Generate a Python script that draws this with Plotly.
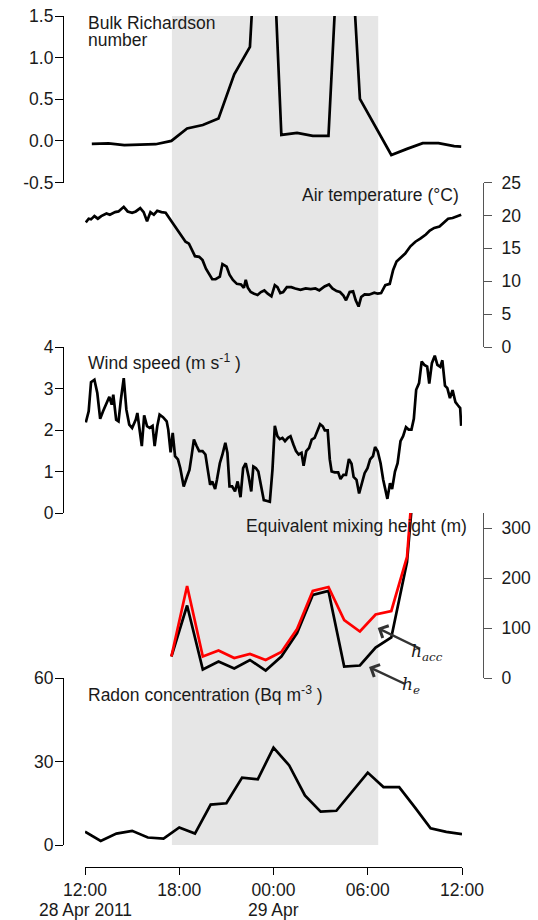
import pandas as pd
import plotly.graph_objects as go

W, H = 538, 920
T0 = pd.Timestamp("2011-04-28 12:00")
FONT = "Liberation Sans, Arial, Helvetica, sans-serif"
TXT = "#1a1a1a"

# ---- data (times in minutes after 12:00 on 28 Apr 2011) ----
ri_min = [26, 90, 150, 210, 270, 330, 390, 450, 510, 570, 630, 690, 750,
          810, 870, 930, 990, 1050, 1110, 1170, 1230, 1290, 1350, 1410, 1437]
ri_val = [-0.036, -0.03, -0.05, -0.045, -0.04, 0.0, 0.15, 0.19, 0.27, 0.80,
          1.13, 4.5, 0.072, 0.096, 0.06, 0.06, 3.8, 0.505, 0.16, -0.17,
          -0.096, -0.028, -0.028, -0.064, -0.068]

temp_min = [3, 14, 23, 36, 49, 62, 82, 95, 115, 128,
            148, 163, 180, 194, 211, 224, 237, 250, 263, 276,
            292, 308, 325, 344, 364, 384, 397, 410, 420, 436,
            449, 462, 475, 486, 499, 515, 525, 541, 552, 565,
            580, 596, 607, 614, 622, 633, 646, 659, 672, 685,
            698, 712, 725, 735, 746, 757, 771, 788, 803, 823,
            843, 862, 880, 895, 915, 932, 945, 961, 974, 987,
            997, 1011, 1024, 1034, 1045, 1055, 1068, 1085, 1105, 1118,
            1131, 1147, 1164, 1177, 1190, 1207, 1223, 1243, 1262, 1282,
            1302, 1317, 1334, 1354, 1370, 1387, 1404, 1420, 1437]
temp_val = [18.95, 19.5, 19.4, 19.9, 19.5, 19.9, 20.3, 20.1, 20.5, 20.6,
            21.3, 20.6, 20.4, 20.6, 21.1, 20.5, 19.1, 20.5, 20.1, 20.7,
            20.5, 20.4, 19.4, 18.3, 17.3, 16.0, 15.7, 14.5, 13.8, 13.7,
            13.2, 11.9, 10.9, 10.3, 10.3, 10.7, 12.6, 12.2, 11.0, 10.2,
            9.6, 9.5, 9.0, 10.2, 9.0, 8.35, 8.1, 7.9, 8.35, 8.6,
            8.1, 7.7, 9.4, 9.1, 8.2, 8.35, 9.1, 9.1, 8.9, 8.7,
            8.9, 8.8, 8.9, 8.6, 9.2, 9.5, 8.9, 8.5, 8.35, 7.8,
            7.1, 8.35, 8.45, 7.1, 6.15, 7.6, 8.0, 7.95, 8.25, 8.1,
            8.2, 9.4, 9.6, 11.7, 13.0, 13.7, 14.2, 15.3, 16.0, 16.5,
            17.1, 17.7, 18.1, 18.3, 18.9, 19.5, 19.6, 19.9, 20.1]

wind_min = [3, 14, 23, 36, 47, 58, 69, 82, 93, 102,
            108, 119, 128, 137, 148, 158, 169, 180, 194, 200,
            207, 217, 226, 237, 247, 258, 266, 276, 285, 298,
            312, 318, 327, 335, 344, 355, 364, 377, 390, 399,
            407, 416, 426, 436, 449, 460, 469, 478, 486, 497,
            504, 515, 525, 536, 544, 552, 562, 573, 583, 594,
            604, 614, 625, 635, 643, 653, 662, 672, 683, 696,
            706, 716, 725, 735, 744, 754, 764, 775, 785, 796,
            806, 816, 827, 835, 845, 856, 866, 877, 887, 898,
            908, 916, 927, 935, 942, 954, 967, 976, 987, 997,
            1008, 1018, 1026, 1037, 1047, 1059, 1068, 1079, 1089, 1100,
            1108, 1118, 1129, 1139, 1155, 1165, 1173, 1184, 1194, 1205,
            1215, 1226, 1236, 1247, 1256, 1265, 1276, 1286, 1296, 1307,
            1315, 1325, 1336, 1346, 1357, 1365, 1375, 1384, 1394, 1404,
            1415, 1425, 1433, 1437]
wind_val = [2.18, 2.45, 3.15, 3.21, 2.89, 2.27, 2.45, 2.65, 2.8, 2.61,
            2.85, 2.25, 2.21, 2.73, 3.25, 2.49, 2.13, 2.05, 2.25, 2.41,
            2.09, 1.61, 2.35, 2.09, 2.05, 2.1, 1.61, 2.09, 2.37, 2.31,
            2.21, 2.01, 1.46, 1.93, 1.37, 1.29, 1.08, 0.64, 0.88, 1.04,
            1.37, 1.77, 1.62, 1.49, 1.49, 1.41, 1.04, 0.68, 0.76, 0.58,
            0.8, 1.2, 1.41, 1.69, 1.45, 0.64, 0.64, 0.52, 0.76, 0.38,
            1.08, 1.2, 0.88, 0.52, 1.12, 1.08, 1.0, 0.64, 0.31, 0.29,
            0.27, 1.04, 2.1, 1.85, 1.78, 1.81, 1.73, 1.81, 1.85, 1.65,
            1.49, 1.41, 1.45, 1.14, 1.49, 1.57, 1.77, 1.81, 1.97, 2.14,
            2.09, 1.99, 1.99, 1.29, 1.0, 0.98, 0.98, 0.82, 0.92, 0.92,
            1.3, 1.19, 0.87, 0.8, 0.47, 0.72, 0.96, 1.08, 1.29, 1.37,
            1.59, 1.49, 1.2, 0.8, 0.34, 0.72, 0.58, 1.0, 1.2, 1.73,
            1.85, 2.07, 2.01, 2.01, 2.27, 2.97, 3.13, 3.65, 3.57, 3.53,
            3.12, 3.61, 3.79, 3.57, 3.52, 3.68, 3.07, 3.01, 2.77, 2.96,
            2.67, 2.59, 2.53, 2.1]

mix_min = [330, 390, 450, 510, 570, 630, 690, 750, 810, 870, 930, 990,
           1050, 1110, 1170, 1230, 1290]
h_acc = [43, 184, 43, 55, 40, 48, 36, 52, 98, 174, 182, 116, 93, 127, 134, 242, 650]
h_e = [43, 145, 17, 33, 19, 36, 15, 43, 90, 166, 174, 23, 25, 61, 81, 232, 600]

radon_min = [60 * i for i in range(25)]
radon_val = [4.8, 1.45, 4.1, 5.1, 2.7, 2.3, 6.3, 4.1, 14.5, 15.0, 24.2, 23.6,
             35.0, 28.6, 17.8, 12.0, 12.3, 19.0, 26.0, 20.8, 20.8, 13.5, 6.0,
             4.7, 3.9]

night_start = "2011-04-28 17:32"
night_end = "2011-04-29 06:40"

tick_times = ["2011-04-28 12:00", "2011-04-28 18:00", "2011-04-29 00:00",
              "2011-04-29 06:00", "2011-04-29 12:00"]
tick_text = ["12:00", "18:00", "00:00", "06:00", "12:00"]
date_times = ["2011-04-28 12:00", "2011-04-29 00:00"]
date_text = ["28 Apr 2011", "29 Apr"]


def times(mins):
    return T0 + pd.to_timedelta(mins, unit="min")


def py(pix):
    """paper fraction from a pixel row measured from the top"""
    return 1 - pix / H


def px(pix):
    return pix / W


LINE = dict(color="black", width=2.7)

fig = go.Figure()
fig.add_trace(go.Scatter(x=times(radon_min), y=radon_val, yaxis="y", mode="lines", line=LINE))
fig.add_trace(go.Scatter(x=times(mix_min), y=h_e, yaxis="y2", mode="lines", line=LINE))
fig.add_trace(go.Scatter(x=times(mix_min), y=h_acc, yaxis="y2", mode="lines",
                         line=dict(color="#ff0000", width=2.7)))
fig.add_trace(go.Scatter(x=times(wind_min), y=wind_val, yaxis="y3", mode="lines", line=LINE))
fig.add_trace(go.Scatter(x=times(temp_min), y=temp_val, yaxis="y4", mode="lines", line=LINE))
fig.add_trace(go.Scatter(x=times(ri_min), y=ri_val, yaxis="y5", mode="lines", line=LINE))

tickfont = dict(family=FONT, size=17.5, color=TXT)


def yax(dom_top, dom_bot, rng, vals, side, text=None, color="black"):
    d = dict(domain=[py(dom_bot), py(dom_top)], range=rng, tickvals=vals,
             anchor="free", position=px(63) if side == "left" else px(483),
             side=side, showline=True, linecolor=color, linewidth=1.2,
             ticks="outside", ticklen=8, tickcolor=color, tickwidth=1.2,
             ticklabelstandoff=-2 if side == "left" else 6,
             showgrid=False, zeroline=False, tickfont=tickfont,
             automargin=False, fixedrange=True)
    if text is not None:
        d["ticktext"] = text
    return d


fig.update_layout(
    width=W, height=H, autosize=False,
    margin=dict(l=0, r=0, t=0, b=0, pad=0),
    paper_bgcolor="white", plot_bgcolor="rgba(0,0,0,0)",
    showlegend=False,
    xaxis=dict(type="date", domain=[px(85), px(462)],
               range=[tick_times[0], tick_times[-1]],
               anchor="free", position=py(867),
               tickvals=tick_times, ticktext=tick_text,
               showline=True, linecolor="black", linewidth=1.2,
               ticks="outside", ticklen=7, tickcolor="black", tickwidth=1.2,
               showgrid=False, zeroline=False, tickfont=tickfont,
               automargin=False, fixedrange=True),
    yaxis=yax(678, 845, [0, 60], [0, 30, 60], "left"),
    yaxis2=yax(513, 678, [0, 330], [0, 100, 200, 300], "right", color="#555555"),
    yaxis3=yax(347, 513, [0, 4], [0, 1, 2, 3, 4], "left"),
    yaxis4=yax(182.5, 347, [0, 25], [0, 5, 10, 15, 20, 25], "right", color="#555555"),
    yaxis5=yax(16, 182.5, [-0.5, 1.5], [-0.5, 0, 0.5, 1, 1.5], "left",
               text=["-0.5", "0.0", "0.5", "1.0", "1.5"]),
)

# night-time shading
fig.add_shape(type="rect", xref="x", yref="paper", x0=night_start, x1=night_end,
              y0=py(845), y1=py(16), fillcolor="#e6e6e6", line_width=0, layer="below")

lab = dict(family=FONT, size=17.5, color=TXT)


def label(text, x, y, anchor):
    fig.add_annotation(text=text, xref="paper", yref="paper", x=px(x), y=py(y),
                       xanchor=anchor, yanchor="middle", showarrow=False, font=lab)


label("Bulk Richardson", 86, 23, "left")
label("number", 86, 40, "left")
label("Air temperature (°C)", 461, 195, "right")
label("Wind speed (m s<sup>-1</sup> )", 86, 362, "left")
label("Equivalent mixing height (m)", 469, 526, "right")
label("Radon concentration (Bq m<sup>-3</sup> )", 86, 694, "left")

# second line of the time labels (dates)
for t, s in zip(date_times, date_text):
    fig.add_annotation(text=s, xref="x", yref="paper", x=t, y=py(910),
                       xanchor="center", yanchor="middle", showarrow=False, font=lab)

# arrows pointing at the two mixing-height curves
for head_t, head_v, dx, dy in [("2011-04-29 06:38", 100, 43, 21),
                               ("2011-04-29 06:05", 22, 36, 17)]:
    fig.add_annotation(x=head_t, y=head_v, xref="x", yref="y2", ax=dx, ay=dy,
                       text="", font=dict(size=1), borderpad=0,
                       showarrow=True, arrowhead=4, arrowsize=1.1,
                       arrowwidth=2.4, arrowcolor="#333333", standoff=0)

serif = dict(family="DejaVu Serif, Liberation Serif, serif", size=17, color=TXT)
fig.add_annotation(text="<i>h</i><sub><i>acc</i></sub>", xref="paper", yref="paper",
                   x=px(445), y=py(666), showarrow=False, font=serif)
fig.add_annotation(text="<i>h</i><sub><i>e</i></sub>", xref="paper", yref="paper",
                   x=px(422), y=py(699), showarrow=False, font=serif)

fig.write_html("out.html")
